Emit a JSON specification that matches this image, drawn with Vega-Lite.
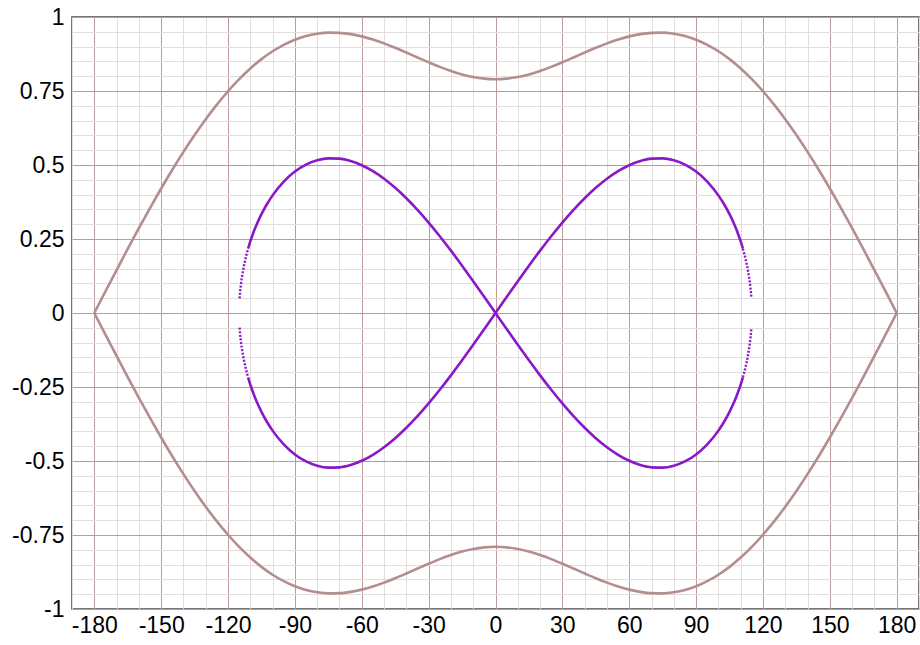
{
  "$schema": "https://vega.github.io/schema/vega-lite/v6.json",
  "width": 847,
  "height": 592,
  "autosize": {"type": "none"},
  "padding": {"left": 72, "top": 17, "right": 1, "bottom": 36},
  "background": "white",
  "config": {
    "view": {"stroke": "#4a4a4a", "strokeWidth": 1.5},
    "axis": {"labelFont": "Liberation Sans", "labelColor": "#000000", "title": null, "ticks": false, "domain": false, "gridOpacity": 1, "gridWidth": 1}
  },
  "datasets": {
    "outer": [
      {"branch": "top", "x": -180, "y": 0}, {"branch": "top", "x": -175, "y": 0.0728}, {"branch": "top", "x": -170, "y": 0.145}, {"branch": "top", "x": -165, "y": 0.2164}, {"branch": "top", "x": -160, "y": 0.2864}, {"branch": "top", "x": -155, "y": 0.3546}, {"branch": "top", "x": -150, "y": 0.4206}, {"branch": "top", "x": -145, "y": 0.484}, {"branch": "top", "x": -140, "y": 0.5443}, {"branch": "top", "x": -135, "y": 0.6013}, {"branch": "top", "x": -130, "y": 0.6547}, {"branch": "top", "x": -125, "y": 0.704}, {"branch": "top", "x": -120, "y": 0.7492}, {"branch": "top", "x": -115, "y": 0.79}, {"branch": "top", "x": -110, "y": 0.8261}, {"branch": "top", "x": -105, "y": 0.8576}, {"branch": "top", "x": -100, "y": 0.8843}, {"branch": "top", "x": -95, "y": 0.9061}, {"branch": "top", "x": -90, "y": 0.9233}, {"branch": "top", "x": -85, "y": 0.9357}, {"branch": "top", "x": -80, "y": 0.9435}, {"branch": "top", "x": -75, "y": 0.9471}, {"branch": "top", "x": -70, "y": 0.9465}, {"branch": "top", "x": -65, "y": 0.9422}, {"branch": "top", "x": -60, "y": 0.9345}, {"branch": "top", "x": -55, "y": 0.9239}, {"branch": "top", "x": -50, "y": 0.9109}, {"branch": "top", "x": -45, "y": 0.896}, {"branch": "top", "x": -40, "y": 0.8799}, {"branch": "top", "x": -35, "y": 0.8633}, {"branch": "top", "x": -30, "y": 0.8469}, {"branch": "top", "x": -25, "y": 0.8314}, {"branch": "top", "x": -20, "y": 0.8176}, {"branch": "top", "x": -15, "y": 0.806}, {"branch": "top", "x": -10, "y": 0.7972}, {"branch": "top", "x": -5, "y": 0.7918}, {"branch": "top", "x": 0, "y": 0.7899},
      {"branch": "top", "x": 5, "y": 0.7918}, {"branch": "top", "x": 10, "y": 0.7972}, {"branch": "top", "x": 15, "y": 0.806}, {"branch": "top", "x": 20, "y": 0.8176}, {"branch": "top", "x": 25, "y": 0.8314}, {"branch": "top", "x": 30, "y": 0.8469}, {"branch": "top", "x": 35, "y": 0.8633}, {"branch": "top", "x": 40, "y": 0.8799}, {"branch": "top", "x": 45, "y": 0.896}, {"branch": "top", "x": 50, "y": 0.9109}, {"branch": "top", "x": 55, "y": 0.9239}, {"branch": "top", "x": 60, "y": 0.9345}, {"branch": "top", "x": 65, "y": 0.9422}, {"branch": "top", "x": 70, "y": 0.9465}, {"branch": "top", "x": 75, "y": 0.9471}, {"branch": "top", "x": 80, "y": 0.9435}, {"branch": "top", "x": 85, "y": 0.9357}, {"branch": "top", "x": 90, "y": 0.9233}, {"branch": "top", "x": 95, "y": 0.9061}, {"branch": "top", "x": 100, "y": 0.8843}, {"branch": "top", "x": 105, "y": 0.8576}, {"branch": "top", "x": 110, "y": 0.8261}, {"branch": "top", "x": 115, "y": 0.79}, {"branch": "top", "x": 120, "y": 0.7492}, {"branch": "top", "x": 125, "y": 0.704}, {"branch": "top", "x": 130, "y": 0.6547}, {"branch": "top", "x": 135, "y": 0.6013}, {"branch": "top", "x": 140, "y": 0.5443}, {"branch": "top", "x": 145, "y": 0.484}, {"branch": "top", "x": 150, "y": 0.4206}, {"branch": "top", "x": 155, "y": 0.3546}, {"branch": "top", "x": 160, "y": 0.2864}, {"branch": "top", "x": 165, "y": 0.2164}, {"branch": "top", "x": 170, "y": 0.145}, {"branch": "top", "x": 175, "y": 0.0728}, {"branch": "top", "x": 180, "y": 0},
      {"branch": "bottom", "x": -180, "y": 0}, {"branch": "bottom", "x": -175, "y": -0.0728}, {"branch": "bottom", "x": -170, "y": -0.145}, {"branch": "bottom", "x": -165, "y": -0.2164}, {"branch": "bottom", "x": -160, "y": -0.2864}, {"branch": "bottom", "x": -155, "y": -0.3546}, {"branch": "bottom", "x": -150, "y": -0.4206}, {"branch": "bottom", "x": -145, "y": -0.484}, {"branch": "bottom", "x": -140, "y": -0.5443}, {"branch": "bottom", "x": -135, "y": -0.6013}, {"branch": "bottom", "x": -130, "y": -0.6547}, {"branch": "bottom", "x": -125, "y": -0.704}, {"branch": "bottom", "x": -120, "y": -0.7492}, {"branch": "bottom", "x": -115, "y": -0.79}, {"branch": "bottom", "x": -110, "y": -0.8261}, {"branch": "bottom", "x": -105, "y": -0.8576}, {"branch": "bottom", "x": -100, "y": -0.8843}, {"branch": "bottom", "x": -95, "y": -0.9061}, {"branch": "bottom", "x": -90, "y": -0.9233}, {"branch": "bottom", "x": -85, "y": -0.9357}, {"branch": "bottom", "x": -80, "y": -0.9435}, {"branch": "bottom", "x": -75, "y": -0.9471}, {"branch": "bottom", "x": -70, "y": -0.9465}, {"branch": "bottom", "x": -65, "y": -0.9422}, {"branch": "bottom", "x": -60, "y": -0.9345}, {"branch": "bottom", "x": -55, "y": -0.9239}, {"branch": "bottom", "x": -50, "y": -0.9109}, {"branch": "bottom", "x": -45, "y": -0.896}, {"branch": "bottom", "x": -40, "y": -0.8799}, {"branch": "bottom", "x": -35, "y": -0.8633}, {"branch": "bottom", "x": -30, "y": -0.8469}, {"branch": "bottom", "x": -25, "y": -0.8314}, {"branch": "bottom", "x": -20, "y": -0.8176}, {"branch": "bottom", "x": -15, "y": -0.806}, {"branch": "bottom", "x": -10, "y": -0.7972}, {"branch": "bottom", "x": -5, "y": -0.7918}, {"branch": "bottom", "x": 0, "y": -0.7899},
      {"branch": "bottom", "x": 5, "y": -0.7918}, {"branch": "bottom", "x": 10, "y": -0.7972}, {"branch": "bottom", "x": 15, "y": -0.806}, {"branch": "bottom", "x": 20, "y": -0.8176}, {"branch": "bottom", "x": 25, "y": -0.8314}, {"branch": "bottom", "x": 30, "y": -0.8469}, {"branch": "bottom", "x": 35, "y": -0.8633}, {"branch": "bottom", "x": 40, "y": -0.8799}, {"branch": "bottom", "x": 45, "y": -0.896}, {"branch": "bottom", "x": 50, "y": -0.9109}, {"branch": "bottom", "x": 55, "y": -0.9239}, {"branch": "bottom", "x": 60, "y": -0.9345}, {"branch": "bottom", "x": 65, "y": -0.9422}, {"branch": "bottom", "x": 70, "y": -0.9465}, {"branch": "bottom", "x": 75, "y": -0.9471}, {"branch": "bottom", "x": 80, "y": -0.9435}, {"branch": "bottom", "x": 85, "y": -0.9357}, {"branch": "bottom", "x": 90, "y": -0.9233}, {"branch": "bottom", "x": 95, "y": -0.9061}, {"branch": "bottom", "x": 100, "y": -0.8843}, {"branch": "bottom", "x": 105, "y": -0.8576}, {"branch": "bottom", "x": 110, "y": -0.8261}, {"branch": "bottom", "x": 115, "y": -0.79}, {"branch": "bottom", "x": 120, "y": -0.7492}, {"branch": "bottom", "x": 125, "y": -0.704}, {"branch": "bottom", "x": 130, "y": -0.6547}, {"branch": "bottom", "x": 135, "y": -0.6013}, {"branch": "bottom", "x": 140, "y": -0.5443}, {"branch": "bottom", "x": 145, "y": -0.484}, {"branch": "bottom", "x": 150, "y": -0.4206}, {"branch": "bottom", "x": 155, "y": -0.3546}, {"branch": "bottom", "x": 160, "y": -0.2864}, {"branch": "bottom", "x": 165, "y": -0.2164}, {"branch": "bottom", "x": 170, "y": -0.145}, {"branch": "bottom", "x": 175, "y": -0.0728}, {"branch": "bottom", "x": 180, "y": 0}
    ],
    "inner": [
      {"branch": "left-top", "x": -111, "y": 0.2172}, {"branch": "left-top", "x": -110, "y": 0.2418}, {"branch": "left-top", "x": -109, "y": 0.2637}, {"branch": "left-top", "x": -108, "y": 0.2835}, {"branch": "left-top", "x": -107, "y": 0.3016}, {"branch": "left-top", "x": -105, "y": 0.3338}, {"branch": "left-top", "x": -102.5, "y": 0.3682}, {"branch": "left-top", "x": -100, "y": 0.3974}, {"branch": "left-top", "x": -95, "y": 0.444}, {"branch": "left-top", "x": -90, "y": 0.4779}, {"branch": "left-top", "x": -85, "y": 0.5015}, {"branch": "left-top", "x": -80, "y": 0.516}, {"branch": "left-top", "x": -75, "y": 0.5225}, {"branch": "left-top", "x": -70, "y": 0.5214}, {"branch": "left-top", "x": -65, "y": 0.5136}, {"branch": "left-top", "x": -60, "y": 0.4993}, {"branch": "left-top", "x": -55, "y": 0.4791}, {"branch": "left-top", "x": -50, "y": 0.4535}, {"branch": "left-top", "x": -45, "y": 0.4229}, {"branch": "left-top", "x": -40, "y": 0.3877}, {"branch": "left-top", "x": -35, "y": 0.3484}, {"branch": "left-top", "x": -30, "y": 0.3054}, {"branch": "left-top", "x": -25, "y": 0.2594}, {"branch": "left-top", "x": -20, "y": 0.2107}, {"branch": "left-top", "x": -15, "y": 0.1599}, {"branch": "left-top", "x": -10, "y": 0.1075}, {"branch": "left-top", "x": -5, "y": 0.054}, {"branch": "left-top", "x": 0, "y": 0},
      {"branch": "right-top", "x": 0, "y": 0}, {"branch": "right-top", "x": 5, "y": 0.054}, {"branch": "right-top", "x": 10, "y": 0.1075}, {"branch": "right-top", "x": 15, "y": 0.1599}, {"branch": "right-top", "x": 20, "y": 0.2107}, {"branch": "right-top", "x": 25, "y": 0.2594}, {"branch": "right-top", "x": 30, "y": 0.3054}, {"branch": "right-top", "x": 35, "y": 0.3484}, {"branch": "right-top", "x": 40, "y": 0.3877}, {"branch": "right-top", "x": 45, "y": 0.4229}, {"branch": "right-top", "x": 50, "y": 0.4535}, {"branch": "right-top", "x": 55, "y": 0.4791}, {"branch": "right-top", "x": 60, "y": 0.4993}, {"branch": "right-top", "x": 65, "y": 0.5136}, {"branch": "right-top", "x": 70, "y": 0.5214}, {"branch": "right-top", "x": 75, "y": 0.5225}, {"branch": "right-top", "x": 80, "y": 0.516}, {"branch": "right-top", "x": 85, "y": 0.5015}, {"branch": "right-top", "x": 90, "y": 0.4779}, {"branch": "right-top", "x": 95, "y": 0.444}, {"branch": "right-top", "x": 100, "y": 0.3974}, {"branch": "right-top", "x": 102.5, "y": 0.3682}, {"branch": "right-top", "x": 105, "y": 0.3338}, {"branch": "right-top", "x": 107, "y": 0.3016}, {"branch": "right-top", "x": 108, "y": 0.2835}, {"branch": "right-top", "x": 109, "y": 0.2637}, {"branch": "right-top", "x": 110, "y": 0.2418}, {"branch": "right-top", "x": 111, "y": 0.2172},
      {"branch": "left-bottom", "x": -111, "y": -0.2172}, {"branch": "left-bottom", "x": -110, "y": -0.2418}, {"branch": "left-bottom", "x": -109, "y": -0.2637}, {"branch": "left-bottom", "x": -108, "y": -0.2835}, {"branch": "left-bottom", "x": -107, "y": -0.3016}, {"branch": "left-bottom", "x": -105, "y": -0.3338}, {"branch": "left-bottom", "x": -102.5, "y": -0.3682}, {"branch": "left-bottom", "x": -100, "y": -0.3974}, {"branch": "left-bottom", "x": -95, "y": -0.444}, {"branch": "left-bottom", "x": -90, "y": -0.4779}, {"branch": "left-bottom", "x": -85, "y": -0.5015}, {"branch": "left-bottom", "x": -80, "y": -0.516}, {"branch": "left-bottom", "x": -75, "y": -0.5225}, {"branch": "left-bottom", "x": -70, "y": -0.5214}, {"branch": "left-bottom", "x": -65, "y": -0.5136}, {"branch": "left-bottom", "x": -60, "y": -0.4993}, {"branch": "left-bottom", "x": -55, "y": -0.4791}, {"branch": "left-bottom", "x": -50, "y": -0.4535}, {"branch": "left-bottom", "x": -45, "y": -0.4229}, {"branch": "left-bottom", "x": -40, "y": -0.3877}, {"branch": "left-bottom", "x": -35, "y": -0.3484}, {"branch": "left-bottom", "x": -30, "y": -0.3054}, {"branch": "left-bottom", "x": -25, "y": -0.2594}, {"branch": "left-bottom", "x": -20, "y": -0.2107}, {"branch": "left-bottom", "x": -15, "y": -0.1599}, {"branch": "left-bottom", "x": -10, "y": -0.1075}, {"branch": "left-bottom", "x": -5, "y": -0.054}, {"branch": "left-bottom", "x": 0, "y": 0},
      {"branch": "right-bottom", "x": 0, "y": 0}, {"branch": "right-bottom", "x": 5, "y": -0.054}, {"branch": "right-bottom", "x": 10, "y": -0.1075}, {"branch": "right-bottom", "x": 15, "y": -0.1599}, {"branch": "right-bottom", "x": 20, "y": -0.2107}, {"branch": "right-bottom", "x": 25, "y": -0.2594}, {"branch": "right-bottom", "x": 30, "y": -0.3054}, {"branch": "right-bottom", "x": 35, "y": -0.3484}, {"branch": "right-bottom", "x": 40, "y": -0.3877}, {"branch": "right-bottom", "x": 45, "y": -0.4229}, {"branch": "right-bottom", "x": 50, "y": -0.4535}, {"branch": "right-bottom", "x": 55, "y": -0.4791}, {"branch": "right-bottom", "x": 60, "y": -0.4993}, {"branch": "right-bottom", "x": 65, "y": -0.5136}, {"branch": "right-bottom", "x": 70, "y": -0.5214}, {"branch": "right-bottom", "x": 75, "y": -0.5225}, {"branch": "right-bottom", "x": 80, "y": -0.516}, {"branch": "right-bottom", "x": 85, "y": -0.5015}, {"branch": "right-bottom", "x": 90, "y": -0.4779}, {"branch": "right-bottom", "x": 95, "y": -0.444}, {"branch": "right-bottom", "x": 100, "y": -0.3974}, {"branch": "right-bottom", "x": 102.5, "y": -0.3682}, {"branch": "right-bottom", "x": 105, "y": -0.3338}, {"branch": "right-bottom", "x": 107, "y": -0.3016}, {"branch": "right-bottom", "x": 108, "y": -0.2835}, {"branch": "right-bottom", "x": 109, "y": -0.2637}, {"branch": "right-bottom", "x": 110, "y": -0.2418}, {"branch": "right-bottom", "x": 111, "y": -0.2172}
    ],
    "tips": [
      {"branch": "left-top", "x": -111, "y": 0.2172}, {"branch": "left-top", "x": -112, "y": 0.1889}, {"branch": "left-top", "x": -113, "y": 0.1549}, {"branch": "left-top", "x": -114, "y": 0.11}, {"branch": "left-top", "x": -114.5, "y": 0.078}, {"branch": "left-top", "x": -114.8, "y": 0.0496},
      {"branch": "left-bottom", "x": -111, "y": -0.2172}, {"branch": "left-bottom", "x": -112, "y": -0.1889}, {"branch": "left-bottom", "x": -113, "y": -0.1549}, {"branch": "left-bottom", "x": -114, "y": -0.11}, {"branch": "left-bottom", "x": -114.5, "y": -0.078}, {"branch": "left-bottom", "x": -114.8, "y": -0.0496},
      {"branch": "right-top", "x": 111, "y": 0.2172}, {"branch": "right-top", "x": 112, "y": 0.1889}, {"branch": "right-top", "x": 113, "y": 0.1549}, {"branch": "right-top", "x": 114, "y": 0.11}, {"branch": "right-top", "x": 114.5, "y": 0.078}, {"branch": "right-top", "x": 114.8, "y": 0.0496},
      {"branch": "right-bottom", "x": 111, "y": -0.2172}, {"branch": "right-bottom", "x": 112, "y": -0.1889}, {"branch": "right-bottom", "x": 113, "y": -0.1549}, {"branch": "right-bottom", "x": 114, "y": -0.11}, {"branch": "right-bottom", "x": 114.5, "y": -0.078}, {"branch": "right-bottom", "x": 114.8, "y": -0.0496}
    ]
  },
  "layer": [
    {
      "data": {"name": "outer"},
      "mark": {"type": "line", "color": "#b48e8e", "strokeWidth": 2.6, "interpolate": "monotone"},
      "encoding": {
        "x": {
          "field": "x", "type": "quantitative",
          "scale": {"domain": [-190, 190], "nice": false, "zero": false},
          "axis": {"orient": "bottom", "labels": false, "grid": true, "gridColor": "#e3dede",
            "values": [-190, -180, -170, -160, -150, -140, -130, -120, -110, -100, -90, -80, -70, -60, -50, -40, -30, -20, -10, 0, 10, 20, 30, 40, 50, 60, 70, 80, 90, 100, 110, 120, 130, 140, 150, 160, 170, 180, 190]}
        },
        "y": {
          "field": "y", "type": "quantitative",
          "scale": {"domain": [-1, 1], "nice": false, "zero": false},
          "axis": {"orient": "left", "labels": false, "grid": true, "gridColor": "#e3dede",
            "values": [-1, -0.95, -0.9, -0.85, -0.8, -0.75, -0.7, -0.65, -0.6, -0.55, -0.5, -0.45, -0.4, -0.35, -0.3, -0.25, -0.2, -0.15, -0.1, -0.05, 0, 0.05, 0.1, 0.15, 0.2, 0.25, 0.3, 0.35, 0.4, 0.45, 0.5, 0.55, 0.6, 0.65, 0.7, 0.75, 0.8, 0.85, 0.9, 0.95, 1]}
        },
        "detail": {"field": "branch"}
      }
    },
    {
      "data": {"name": "inner"},
      "mark": {"type": "line", "color": "#8a18c8", "strokeWidth": 2.6, "interpolate": "monotone"},
      "encoding": {
        "x": {
          "field": "x", "type": "quantitative",
          "scale": {"domain": [-190, 190], "nice": false, "zero": false},
          "axis": {"orient": "bottom", "grid": true, "gridColor": "#be9a9a", "labelFontSize": 23, "labelPadding": 5,
            "labelExpr": "toString(datum.value)",
            "values": [-180, -150, -120, -90, -60, -30, 0, 30, 60, 90, 120, 150, 180]}
        },
        "y": {
          "field": "y", "type": "quantitative",
          "scale": {"domain": [-1, 1], "nice": false, "zero": false},
          "axis": {"orient": "left", "grid": true, "gridColor": "#be9a9a", "labelFontSize": 23, "labelPadding": 8,
            "labelExpr": "toString(datum.value)",
            "values": [-1, -0.75, -0.5, -0.25, 0, 0.25, 0.5, 0.75, 1]}
        },
        "detail": {"field": "branch"}
      }
    },
    {
      "data": {"name": "tips"},
      "mark": {"type": "line", "color": "#8a18c8", "strokeWidth": 2.4, "strokeDash": [2, 1.6], "strokeCap": "butt"},
      "encoding": {
        "x": {"field": "x", "type": "quantitative", "axis": null},
        "y": {"field": "y", "type": "quantitative", "axis": null},
        "detail": {"field": "branch"}
      }
    }
  ],
  "resolve": {"axis": {"x": "independent", "y": "independent"}}
}
